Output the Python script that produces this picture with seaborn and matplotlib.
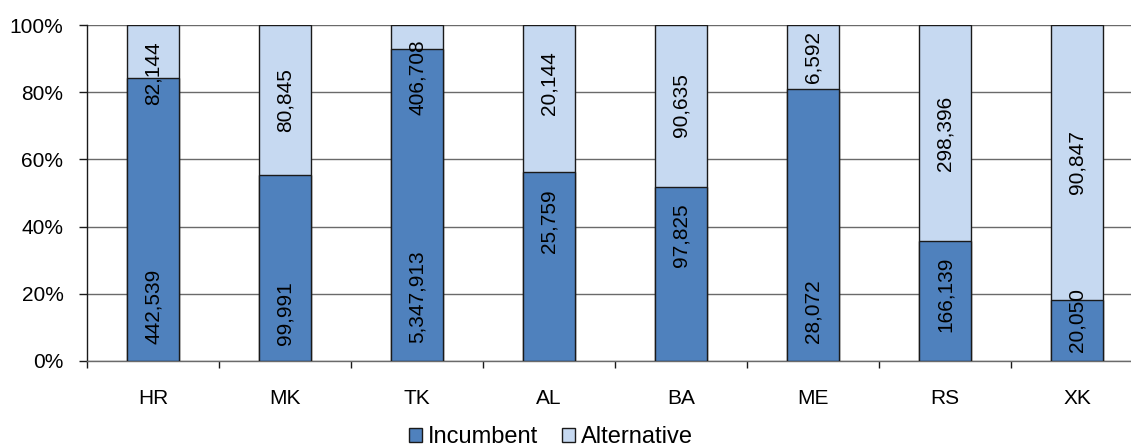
import matplotlib
matplotlib.use("Agg")
import matplotlib.pyplot as plt
from matplotlib.patches import Patch
from matplotlib.ticker import FixedLocator, PercentFormatter
import numpy as np
import pandas as pd
import seaborn as sns

# Subscribers by country, split by operator type
countries = ["HR", "MK", "TK", "AL", "BA", "ME", "RS", "XK"]
incumbent = [442539, 99991, 5347913, 25759, 97825, 28072, 166139, 20050]
alternative = [82144, 80845, 406708, 20144, 90635, 6592, 298396, 90847]

# Vertical anchor (share of axis) for each value label
inc_label_y = [0.162, 0.141, 0.192, 0.415, 0.373, 0.147, 0.198, 0.122]
alt_label_y = [0.856, 0.777, 0.844, 0.826, 0.762, 0.906, 0.676, 0.591]

INC_COLOR = "#4F81BD"
ALT_COLOR = "#C6D9F1"

sns.set_theme(style="white")
plt.rcParams["font.family"] = ["Liberation Sans", "DejaVu Sans"]
plt.rcParams["text.color"] = "black"
plt.rcParams["xtick.color"] = "black"
plt.rcParams["ytick.color"] = "black"
plt.rcParams["xtick.labelcolor"] = "black"
plt.rcParams["ytick.labelcolor"] = "black"

inc = np.array(incumbent, dtype=float)
alt = np.array(alternative, dtype=float)
tot = inc + alt
df = pd.DataFrame({
    "country": countries,
    "inc_share": inc / tot,
    "stack_top": inc / tot + alt / tot,
})

fig = plt.figure(figsize=(11.31, 4.48), dpi=100)
ax = fig.add_axes([87 / 1131, 1 - 361 / 448, (1143 - 87) / 1131, (361 - 25) / 448])

# Gridlines behind the bars
ax.set_axisbelow(True)
ax.yaxis.grid(True, color="#6a6a6a", linewidth=1.0)

sns.barplot(data=df, x="country", y="stack_top", color=ALT_COLOR, width=0.4,
            edgecolor="#1a1a1a", linewidth=1.0, saturation=1, ax=ax, zorder=2)
sns.barplot(data=df, x="country", y="inc_share", color=INC_COLOR, width=0.4,
            edgecolor="#1a1a1a", linewidth=1.0, saturation=1, ax=ax, zorder=3)

for i in range(len(countries)):
    ax.text(i, inc_label_y[i], f"{incumbent[i]:,}", rotation=90, ha="center",
            va="center", fontsize=15, color="black", zorder=5)
    ax.text(i, alt_label_y[i], f"{alternative[i]:,}", rotation=90, ha="center",
            va="center", fontsize=15, color="black", zorder=5)

ax.set_xlim(-0.5, len(countries) - 0.5)
ax.set_ylim(0, 1)
ax.yaxis.set_major_locator(FixedLocator(np.arange(0, 1.01, 0.2)))
ax.yaxis.set_major_formatter(PercentFormatter(1.0, decimals=0))
ax.set_xlabel("")
ax.set_ylabel("")

# Category ticks sit between bars; labels stay centred under them
ax.xaxis.set_minor_locator(FixedLocator(np.arange(-0.5, len(countries), 1.0)))
ax.tick_params(axis="x", which="major", length=0, pad=20.5, labelsize=15,
               labelcolor="black")
ax.tick_params(axis="x", which="minor", length=5, width=1, color="#1a1a1a",
               direction="out", bottom=True)
ax.tick_params(axis="y", which="major", length=6, width=1, color="#1a1a1a",
               direction="out", left=True, pad=11, labelsize=15, labelcolor="black")

for side in ("top", "right"):
    ax.spines[side].set_visible(False)
ax.spines["left"].set_color("#1a1a1a")
ax.spines["left"].set_linewidth(1.0)
ax.spines["bottom"].set_color("#6a6a6a")
ax.spines["bottom"].set_linewidth(1.0)

handles = [
    Patch(facecolor=INC_COLOR, edgecolor="#1a1a1a", linewidth=1.0, label="Incumbent"),
    Patch(facecolor=ALT_COLOR, edgecolor="#1a1a1a", linewidth=1.0, label="Alternative"),
]
leg = fig.legend(handles=handles, loc="center", bbox_to_anchor=(551 / 1131, 1 - 437 / 448),
                 ncol=2, frameon=False, fontsize=17, handlelength=0.55, handleheight=0.55,
                 handletextpad=0.25, columnspacing=1.0, borderpad=0, borderaxespad=0)
for t in leg.get_texts():
    t.set_color("black")

fig.savefig("out.png", dpi=100)
